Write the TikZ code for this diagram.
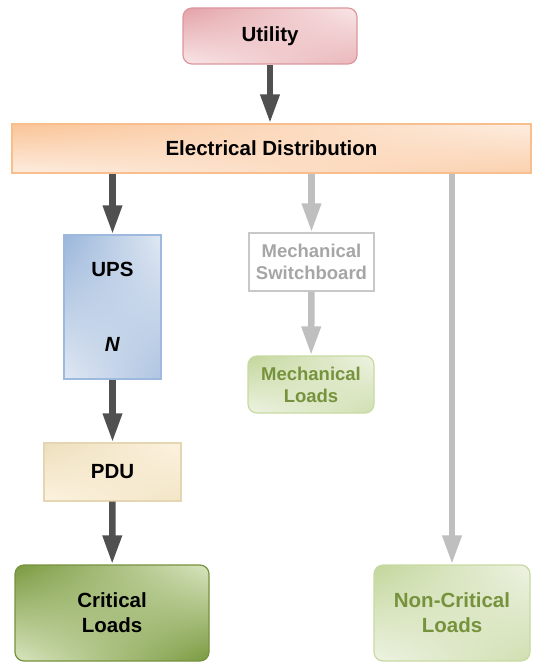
\documentclass[tikz,border=0pt]{standalone}
\usepackage{fontspec}
\setmainfont{Liberation Sans}
\usepackage{tikz}
\usetikzlibrary{positioning,arrows.meta,shapes,shadings}

\definecolor{utilline}{HTML}{DB979C}
\definecolor{utildark}{HTML}{E3A2A7}
\definecolor{utillight}{HTML}{F9E6E7}
\definecolor{distline}{HTML}{F9BE8E}
\definecolor{distdark}{HTML}{FAC497}
\definecolor{distlight}{HTML}{FDEDE0}
\definecolor{upsline}{HTML}{9DB9DE}
\definecolor{upsdark}{HTML}{9AB6DA}
\definecolor{upslight}{HTML}{E0E8F3}
\definecolor{pduline}{HTML}{E4D6B2}
\definecolor{pdudark}{HTML}{EDDFBC}
\definecolor{pdulight}{HTML}{FDF2DF}
\definecolor{critline}{HTML}{76923C}
\definecolor{critdark}{HTML}{7A9A40}
\definecolor{critlight}{HTML}{D9E5BF}
\definecolor{ncline}{HTML}{C8DAA2}
\definecolor{ncdark}{HTML}{C3D69B}
\definecolor{nclight}{HTML}{EEF3E3}
\definecolor{nctext}{HTML}{76923C}
\definecolor{swline}{HTML}{C8C8C8}
\definecolor{swtext}{HTML}{A6A6A6}
\definecolor{darkflow}{HTML}{505050}
\definecolor{lightflow}{HTML}{BFBFBF}

\begin{document}
\begin{tikzpicture}[x=1pt,y=-1pt,
  block/.style={rectangle,draw=#1line,line width=1.2pt,inner sep=0pt,align=center,
    font=\bfseries\fontsize{20.5}{25}\selectfont,
    upper left=#1dark,lower right=#1dark!70!#1light,upper right=#1light,lower left=#1light},
  roundblock/.style={block=#1,rounded corners=9pt},
  darkarrow/.style={-{Triangle[width=18pt,length=29pt]},line width=6.5pt,darkflow},
  lightarrow/.style={-{Triangle[width=18pt,length=29pt]},line width=6.5pt,lightflow},
]
\useasboundingbox (0,0) rectangle (536,663);

% === Top: supply ===
\node[roundblock=util,minimum width=174pt,minimum height=56pt] (utility) at (270,36) {Utility};
\node[block=dist,rounded corners=0pt,minimum width=519pt,minimum height=49pt] (elec) at (271.5,148.5) {Electrical Distribution};

% === Left: critical path ===
\node[block=ups,minimum width=97pt,minimum height=144pt] (ups) at (112.5,307) {UPS\\[50pt]\textit{N}};
\node[block=pdu,minimum width=137pt,minimum height=58pt] (pdu) at (112.5,472) {PDU};
\node[roundblock=crit,minimum width=194pt,minimum height=96pt,
  upper left=critdark,lower right=critdark,upper right=critlight,lower left=critlight] (critical) at (112,613) {Critical\\Loads};

% === Middle: mechanical ===
\node[rectangle,draw=swline,line width=1.2pt,fill=white,text=swtext,align=center,inner sep=0pt,
  font=\bfseries\fontsize{18.5}{22}\selectfont,minimum width=125pt,minimum height=58pt] (switchboard) at (311.5,262) {Mechanical\\Switchboard};
\node[roundblock=nc,text=nctext,font=\bfseries\fontsize{18.5}{22}\selectfont,minimum width=126pt,minimum height=57pt] (mechloads) at (311,384.5) {Mechanical\\Loads};

% === Right: non-critical ===
\node[roundblock=nc,text=nctext,minimum width=156pt,minimum height=96pt] (noncritical) at (452,613) {Non-Critical\\Loads};

% === Flows ===
\draw[darkarrow] (utility.south) -- (utility.south |- elec.north);
\draw[darkarrow] (ups.north |- elec.south) -- (ups.north);
\draw[darkarrow] (ups) -- (pdu);
\draw[darkarrow] (pdu) -- (critical);
\draw[lightarrow] (switchboard.north |- elec.south) -- (switchboard.north);
\draw[lightarrow] (switchboard) -- (mechloads);
\draw[lightarrow] (noncritical.north |- elec.south) -- (noncritical.north);

\end{tikzpicture}
\end{document}
